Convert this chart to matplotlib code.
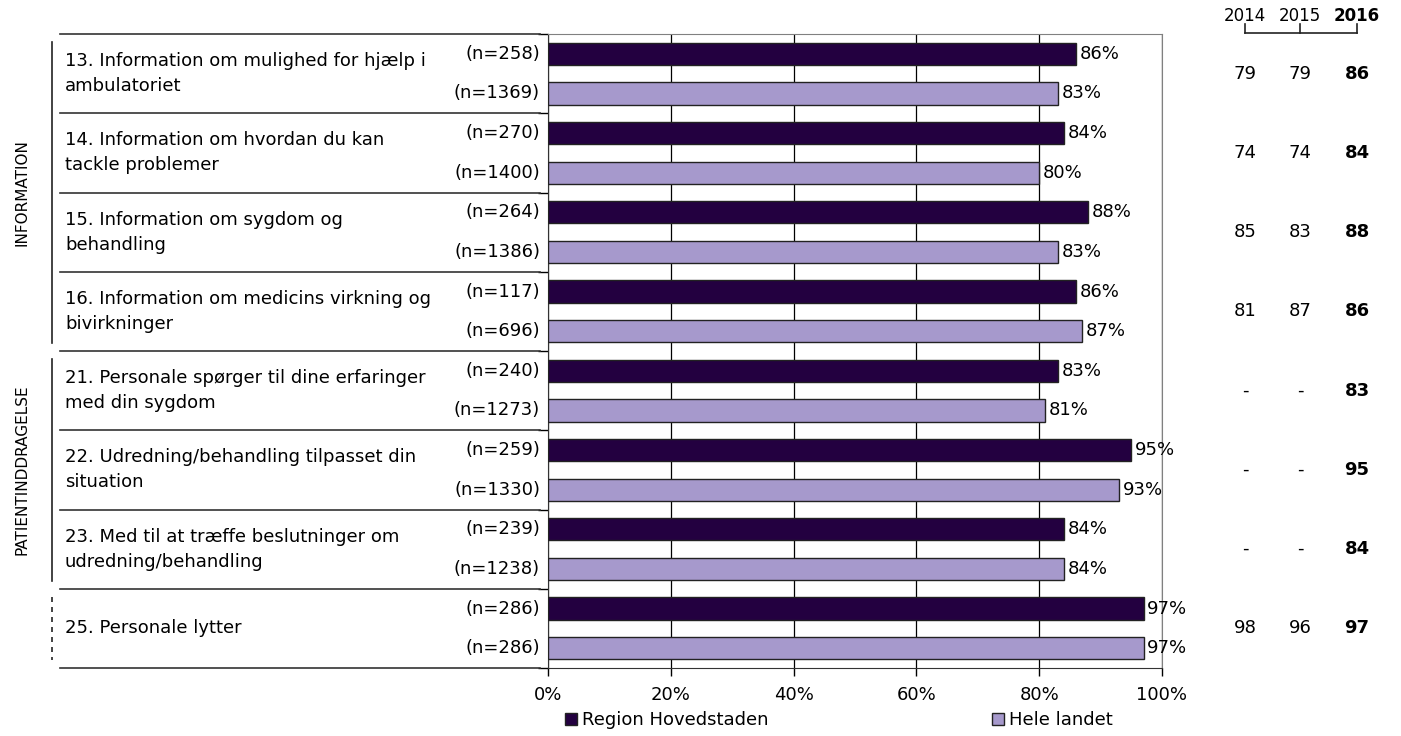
import matplotlib.pyplot as plt
from matplotlib.patches import Patch
import numpy as np

# Spoergsmaal og data
questions = [
    "13. Information om mulighed for hjælp i\nambulatoriet",
    "14. Information om hvordan du kan\ntackle problemer",
    "15. Information om sygdom og\nbehandling",
    "16. Information om medicins virkning og\nbivirkninger",
    "21. Personale spørger til dine erfaringer\nmed din sygdom",
    "22. Udredning/behandling tilpasset din\nsituation",
    "23. Med til at træffe beslutninger om\nudredning/behandling",
    "25. Personale lytter",
]
region = [86, 84, 88, 86, 83, 95, 84, 97]
landet = [83, 80, 83, 87, 81, 93, 84, 97]
n_region = [258, 270, 264, 117, 240, 259, 239, 286]
n_landet = [1369, 1400, 1386, 696, 1273, 1330, 1238, 286]
years = ["2014", "2015", "2016"]
trend_2014 = ["79", "74", "85", "81", "-", "-", "-", "98"]
trend_2015 = ["79", "74", "83", "87", "-", "-", "-", "96"]
trend_2016 = ["86", "84", "88", "86", "83", "95", "84", "97"]
themes = [("INFORMATION", 0, 4), ("PATIENTINDDRAGELSE", 4, 7), ("", 7, 8)]
series = ["Region Hovedstaden", "Hele landet"]

dark = "#230040"
light = "#a699cc"
fs = 13

W, H = 1401, 736
fig = plt.figure(figsize=(W / 100, H / 100), dpi=100)
x0, x1, y0, y1 = 548, 1162, 34, 668
ax = fig.add_axes([x0 / W, 1 - y1 / H, (x1 - x0) / W, (y1 - y0) / H])


def ax_x(px):
    return (px - x0) / (x1 - x0)


def ax_y(py):
    return (y1 - py) / (y1 - y0)


ng = len(questions)
pos_r = np.arange(ng) * 2 + 0.5
pos_l = np.arange(ng) * 2 + 1.5
bh = 0.56

ax.barh(pos_r, region, height=bh, color=dark, edgecolor="#222222", linewidth=1, zorder=3)
ax.barh(pos_l, landet, height=bh, color=light, edgecolor="#222222", linewidth=1, zorder=3)

ax.set_xlim(0, 100)
ax.set_ylim(2 * ng, 0)
ax.set_xticks(np.arange(0, 101, 20))
ax.set_xticklabels([f"{v}%" for v in range(0, 101, 20)], fontsize=fs)
ax.set_yticks(np.arange(0, 2 * ng + 1, 2))
ax.set_yticklabels([])
ax.tick_params(axis="y", length=7, width=1, direction="out")
ax.tick_params(axis="x", length=6, width=1, direction="out", pad=7)
ax.grid(axis="x", color="black", linewidth=0.9, zorder=0)
for s in ["top", "right"]:
    ax.spines[s].set_color("#808080")
ax.spines["left"].set_color("#333333")
ax.spines["bottom"].set_color("#333333")

yt = ax.get_yaxis_transform()
trend_x = [1245, 1300, 1357]

for i in range(ng):
    ax.text(region[i] + 0.6, pos_r[i], f"{region[i]}%", va="center", ha="left", fontsize=fs, zorder=4)
    ax.text(landet[i] + 0.6, pos_l[i], f"{landet[i]}%", va="center", ha="left", fontsize=fs, zorder=4)
    ax.text(ax_x(540), pos_r[i], f"(n={n_region[i]})", transform=yt, ha="right", va="center", fontsize=fs)
    ax.text(ax_x(540), pos_l[i], f"(n={n_landet[i]})", transform=yt, ha="right", va="center", fontsize=fs)
    ax.text(ax_x(65), 2 * i + 1, questions[i], transform=yt, ha="left", va="center",
            fontsize=fs, linespacing=1.5)
    # trend columns
    for col, (xp, vals) in enumerate(zip(trend_x, [trend_2014, trend_2015, trend_2016])):
        ax.text(ax_x(xp), 2 * i + 1, vals[i], transform=yt, ha="center", va="center",
                fontsize=fs, fontweight="bold" if col == 2 else "normal")

# table lines on the left
for k in range(ng + 1):
    ax.plot([ax_x(60), ax_x(540)], [2 * k, 2 * k], transform=yt, color="#333333",
            linewidth=1.2, clip_on=False)

# theme brackets
for name, a, b in themes:
    ls = "-" if name else (0, (3, 3))
    ax.plot([ax_x(52), ax_x(52)], [2 * a + 0.2, 2 * b - 0.2], transform=yt, color="#222222",
            linewidth=1.2, linestyle=ls, clip_on=False)
    if name:
        ax.text(ax_x(22), a + b, name, transform=yt, rotation=90, ha="center", va="center",
                fontsize=11)

# year header with bracket
for col, (xp, yr) in enumerate(zip(trend_x, years)):
    ax.text(ax_x(xp), ax_y(16), yr, transform=ax.transAxes, ha="center", va="center",
            fontsize=12, fontweight="bold" if col == 2 else "normal")
    ax.plot([ax_x(xp), ax_x(xp)], [ax_y(24), ax_y(33)], transform=ax.transAxes,
            color="#222222", linewidth=1.2, clip_on=False)
ax.plot([ax_x(trend_x[0]), ax_x(trend_x[-1])], [ax_y(33), ax_y(33)],
        transform=ax.transAxes, color="#222222", linewidth=1.2, clip_on=False)

# legends
h1 = Patch(facecolor=dark, edgecolor="#222222", label=series[0])
h2 = Patch(facecolor=light, edgecolor="#222222", label=series[1])
fig.legend(handles=[h1], loc="center left", bbox_to_anchor=(556 / W, 1 - 720 / H),
           frameon=False, fontsize=fs, handlelength=0.65, handleheight=0.65,
           handletextpad=0.3, borderpad=0)
fig.legend(handles=[h2], loc="center left", bbox_to_anchor=(983 / W, 1 - 720 / H),
           frameon=False, fontsize=fs, handlelength=0.65, handleheight=0.65,
           handletextpad=0.3, borderpad=0)

fig.savefig("out.png", dpi=100)
